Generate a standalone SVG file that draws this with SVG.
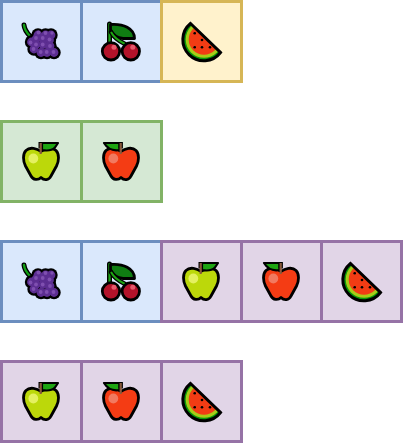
<svg xmlns="http://www.w3.org/2000/svg" width="403" height="443" viewBox="0 0 403 443">
<style>
.cell{stroke-width:3}
.blue{fill:#dae8fc;stroke:#6c8ebf}
.yellow{fill:#fff2cc;stroke:#d6b656}
.green{fill:#d5e8d4;stroke:#82b366}
.purple{fill:#e1d5e7;stroke:#9673a6}
.ol{stroke:#000;stroke-width:2.800;stroke-linejoin:round;stroke-linecap:round}
</style>
<defs>
<g id="grape">
<path d="M24 25C24.500 30 27 33 30 36" fill="none" stroke="#000" stroke-width="5" stroke-linecap="round"/>
<path d="M24 25C24.500 30 27 33 30 36" fill="none" stroke="#12a012" stroke-width="2.400" stroke-linecap="round"/>
<g fill="#000"><circle cx="38" cy="35" r="6.700"/><circle cx="45.500" cy="35" r="6.700"/><circle cx="51" cy="35" r="6.700"/><circle cx="31.500" cy="42" r="6.700"/><circle cx="36" cy="39" r="6.700"/><circle cx="43" cy="39" r="6.700"/><circle cx="49.500" cy="40" r="6.700"/><circle cx="36" cy="44.500" r="6.700"/><circle cx="43" cy="44.500" r="6.700"/><circle cx="50" cy="46" r="6.700"/><circle cx="34" cy="49" r="6.700"/><circle cx="41" cy="52.500" r="6.700"/><circle cx="47" cy="52.500" r="6.700"/><circle cx="54" cy="52.500" r="6.700"/></g>
<g fill="#5c2e91"><circle cx="38" cy="35" r="4.400"/><circle cx="45.500" cy="35" r="4.400"/><circle cx="51" cy="35" r="4.400"/><circle cx="31.500" cy="42" r="4.400"/><circle cx="36" cy="39" r="4.400"/><circle cx="43" cy="39" r="4.400"/><circle cx="49.500" cy="40" r="4.400"/><circle cx="36" cy="44.500" r="4.400"/><circle cx="43" cy="44.500" r="4.400"/><circle cx="50" cy="46" r="4.400"/><circle cx="34" cy="49" r="4.400"/><circle cx="41" cy="52.500" r="4.400"/><circle cx="47" cy="52.500" r="4.400"/><circle cx="54" cy="52.500" r="4.400"/></g>
<g fill="#7f4fb0"><circle cx="38.500" cy="32.500" r="1.900"/><circle cx="45.500" cy="33" r="1.900"/><circle cx="52" cy="33" r="1.700"/><circle cx="36" cy="38" r="1.900"/><circle cx="42.700" cy="38" r="1.900"/><circle cx="49.500" cy="39.500" r="1.900"/><circle cx="30.500" cy="42.500" r="1.900"/><circle cx="36" cy="44.500" r="1.900"/><circle cx="42.700" cy="44.500" r="1.900"/><circle cx="50" cy="46" r="1.900"/><circle cx="33.500" cy="49" r="1.900"/><circle cx="40.700" cy="52" r="1.900"/><circle cx="46.700" cy="52" r="1.900"/><circle cx="53.500" cy="52" r="1.900"/></g>
</g>
<g id="cherry">
<path d="M29.500 24V43" fill="none" stroke="#000" stroke-width="5" stroke-linecap="round"/>
<path d="M29.500 24V43" fill="none" stroke="#1ea512" stroke-width="2.200" stroke-linecap="round"/>
<path class="ol" fill="#0f7d12" d="M30.500 24.500C43 23.500 54.500 28 54.500 38.500H43C38 38 33 35 30.500 30Z"/>
<path d="M31 32C34 38 39 41 45 44" fill="none" stroke="#000" stroke-width="4.600" stroke-linecap="round"/>
<path d="M31 32C34 38 39 41 45 44" fill="none" stroke="#1ea512" stroke-width="2"/>
<circle class="ol" cx="31" cy="51.300" r="8.700" fill="#b3122a"/>
<circle class="ol" cx="50.800" cy="51.300" r="8.700" fill="#b3122a"/>
<circle cx="34" cy="47.300" r="2.500" fill="#e8586c"/>
<circle cx="52.800" cy="47.300" r="2.500" fill="#e8586c"/>
</g>
<clipPath id="melon-clip"><path d="M30.500 23.500L60.500 52.500A21 21 0 1 1 30.500 23.500Z"/></clipPath>
<g id="melon">
<path d="M30.500 23.500L60.500 52.500A21 21 0 1 1 30.500 23.500Z" fill="#0a9a0a"/>
<g clip-path="url(#melon-clip)"><circle cx="44" cy="39.500" r="18.300" fill="#a8cc18"/><circle cx="44" cy="39.500" r="15.300" fill="#f23c14"/></g>
<path d="M30.500 23.500L60.500 52.500A21 21 0 1 1 30.500 23.500Z" fill="none" stroke="#000" stroke-width="3" stroke-linejoin="miter"/>
<g fill="#000"><circle cx="34.700" cy="33.300" r="1.300"/><circle cx="42" cy="40" r="1.300"/><circle cx="34.700" cy="47.300" r="1.300"/><circle cx="42" cy="47.300" r="1.300"/><circle cx="50" cy="47.300" r="1.300"/></g>
</g>
<path id="apple-body" class="ol" d="M41 31.500C37 28.500 30 26.500 26 30.500C22.500 34 23 41 25.500 46L31 56C33 60 38 60.500 41 57.500C44 60.500 49 60.500 51 56L56.500 46C59 41 59.500 34 56 30.500C52 26.500 45 28.500 41 31.500Z"/>
<g id="green-apple">
<use href="#apple-body" fill="#bcd80a"/>
<circle cx="33.300" cy="38.500" r="4.900" fill="#e4f060"/>
<path fill="#1ea512" stroke="#000" stroke-width="2.200" stroke-linejoin="round" d="M42 23H58L55 27.500C52 30.500 47 31 42 30Z"/>
<path d="M40.700 22V28.500" stroke="#000" stroke-width="4.400" fill="none"/>
<path d="M40.700 23V34" stroke="#8b5a3c" stroke-width="2.200" fill="none"/>
</g>
<g id="red-apple">
<use href="#apple-body" fill="#f43c14"/>
<circle cx="33.300" cy="38.500" r="4.900" fill="#f27a60"/>
<path fill="#1ea512" stroke="#000" stroke-width="2.200" stroke-linejoin="round" d="M24 23H39.500V30C34 31 28 29.500 24 23Z"/>
<path d="M40.700 22V28.500" stroke="#000" stroke-width="4.400" fill="none"/>
<path d="M40.700 23V34" stroke="#8b5a3c" stroke-width="2.200" fill="none"/>
</g>
</defs>
<g id="connectors"/>
<g id="r1-grape" transform="translate(0 0)"><rect class="cell blue" x="1.500" y="1.500" width="80" height="80"/><use href="#grape"/></g>
<g id="r1-cherry" transform="translate(80 0)"><rect class="cell blue" x="1.500" y="1.500" width="80" height="80"/><use href="#cherry"/></g>
<g id="r1-melon" transform="translate(160 0)"><rect class="cell yellow" x="1.500" y="1.500" width="80" height="80"/><use href="#melon"/></g>
<g id="r2-green-apple" transform="translate(0 120)"><rect class="cell green" x="1.500" y="1.500" width="80" height="80"/><use href="#green-apple"/></g>
<g id="r2-red-apple" transform="translate(80 120)"><rect class="cell green" x="1.500" y="1.500" width="80" height="80"/><use href="#red-apple"/></g>
<g id="r3-grape" transform="translate(0 240)"><rect class="cell blue" x="1.500" y="1.500" width="80" height="80"/><use href="#grape"/></g>
<g id="r3-cherry" transform="translate(80 240)"><rect class="cell blue" x="1.500" y="1.500" width="80" height="80"/><use href="#cherry"/></g>
<g id="r3-green-apple" transform="translate(160 240)"><rect class="cell purple" x="1.500" y="1.500" width="80" height="80"/><use href="#green-apple"/></g>
<g id="r3-red-apple" transform="translate(240 240)"><rect class="cell purple" x="1.500" y="1.500" width="80" height="80"/><use href="#red-apple"/></g>
<g id="r3-melon" transform="translate(320 240)"><rect class="cell purple" x="1.500" y="1.500" width="80" height="80"/><use href="#melon"/></g>
<g id="r4-green-apple" transform="translate(0 360)"><rect class="cell purple" x="1.500" y="1.500" width="80" height="80"/><use href="#green-apple"/></g>
<g id="r4-red-apple" transform="translate(80 360)"><rect class="cell purple" x="1.500" y="1.500" width="80" height="80"/><use href="#red-apple"/></g>
<g id="r4-melon" transform="translate(160 360)"><rect class="cell purple" x="1.500" y="1.500" width="80" height="80"/><use href="#melon"/></g>
</svg>
